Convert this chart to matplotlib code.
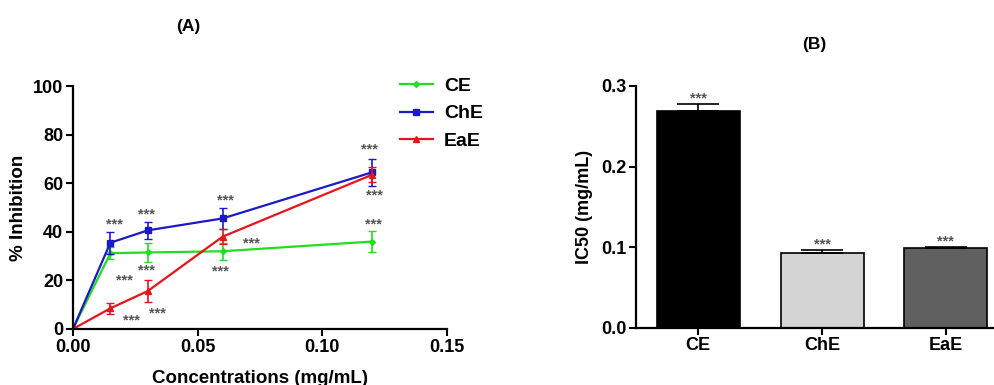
import numpy as np
import matplotlib.pyplot as plt

plt.rcParams['font.family'] = ['Liberation Sans', 'DejaVu Sans']
plt.rcParams['font.weight'] = 'bold'

# panel A data
conc = [0, 0.015, 0.03, 0.06, 0.12]
ce = [0, 31.2, 31.5, 32.0, 36.0]
ce_err = [0, 2.5, 4.0, 3.5, 4.5]
che = [0, 35.5, 40.6, 45.5, 64.5]
che_err = [0, 4.5, 3.5, 4.2, 5.5]
eae = [0, 8.5, 15.6, 38.0, 63.5]
eae_err = [0, 2.2, 4.6, 3.0, 3.0]

# significance marks in panel A (x, y)
stars_a = [(0.0168, 43), (0.0296, 47), (0.061, 53),
           (0.0208, 20), (0.0296, 24), (0.059, 23.5),
           (0.0236, 3.5), (0.034, 6.5), (0.0716, 35),
           (0.119, 74), (0.121, 55), (0.1205, 43)]

# panel B data
extracts = ['CE', 'ChE', 'EaE']
ic50 = [0.269, 0.093, 0.0993]
ic50_err = [0.008, 0.003, 0.001]
bar_colors = ['#000000', '#d4d4d4', '#606060']

fig = plt.figure(figsize=(9.94, 3.85), dpi=100)

# ---- (A) ----
ax = fig.add_axes([0.0734, 0.1455, 0.3763, 0.631])
series = [(ce, ce_err, '#22dd22', 'D', 3, 'CE'),
          (che, che_err, '#1a1ac8', 's', 4.5, 'ChE'),
          (eae, eae_err, '#e8141c', '^', 4.5, 'EaE')]
for vals, errs, col, mk, ms, lab in series:
    ax.errorbar(conc, vals, yerr=errs, fmt='none', ecolor=col, capsize=3,
                elinewidth=1.2)
    ax.plot(conc, vals, color=col, marker=mk, ms=ms, lw=1.6, label=lab)
for sx, sy in stars_a:
    ax.text(sx, sy, '***', fontsize=10.5, color='#555555', ha='center', va='center')
ax.set_xlim(0, 0.15)
ax.set_ylim(0, 100)
ax.set_xticks([0, 0.05, 0.10, 0.15])
ax.set_xticklabels(['0.00', '0.05', '0.10', '0.15'])
ax.set_yticks([0, 20, 40, 60, 80, 100])
ax.set_xlabel('Concentrations (mg/mL)', fontsize=13.5, fontweight='bold', labelpad=10)
ax.set_ylabel('% Inhibition', fontsize=13.5, fontweight='bold', labelpad=4)
ax.spines[['top', 'right']].set_visible(False)
for s in ['left', 'bottom']:
    ax.spines[s].set_linewidth(1.6)
ax.tick_params(width=1.5, length=5, labelsize=13, pad=2)
for lab in ax.get_xticklabels() + ax.get_yticklabels():
    lab.set_fontweight('bold')
ax.legend(loc='upper left', bbox_to_anchor=(382 / 994, 1 - 60 / 385),
          bbox_transform=fig.transFigure, frameon=False,
          handlelength=1.7, labelspacing=0.5, handletextpad=0.6,
          prop={'weight': 'bold', 'size': 14})
fig.text(188 / 994, 1 - 27 / 385, '(A)', fontsize=12.5, fontweight='bold',
         ha='center', va='center')

# ---- (B) ----
bx = fig.add_axes([0.640, 0.1488, 0.359, 0.628])
x = np.arange(len(extracts))
bx.bar(x, ic50, width=0.67, color=bar_colors, edgecolor='black', linewidth=1.2,
       yerr=[np.zeros(len(x)), ic50_err], capsize=15,
       error_kw={'elinewidth': 1.2, 'capthick': 1.2})
for xi, v, e in zip(x, ic50, ic50_err):
    bx.text(xi, v + e + 0.007, '***', fontsize=10.5, color='#555555',
            ha='center', va='center')
bx.set_xlim(-0.5, 2.38)
bx.set_ylim(0, 0.3)
bx.set_yticks([0.0, 0.1, 0.2, 0.3])
bx.set_yticklabels(['0.0', '0.1', '0.2', '0.3'])
bx.set_xticks(x)
bx.set_xticklabels(extracts)
bx.set_ylabel('IC50 (mg/mL)', fontsize=13, fontweight='bold', labelpad=6)
bx.spines[['top', 'right']].set_visible(False)
for s in ['left', 'bottom']:
    bx.spines[s].set_linewidth(1.6)
bx.tick_params(width=1.5, length=5, labelsize=13, pad=2)
for lab in bx.get_xticklabels() + bx.get_yticklabels():
    lab.set_fontweight('bold')
fig.text(814 / 994, 1 - 45 / 385, '(B)', fontsize=12.5, fontweight='bold',
         ha='center', va='center')

fig.savefig('out.png', dpi=100)
